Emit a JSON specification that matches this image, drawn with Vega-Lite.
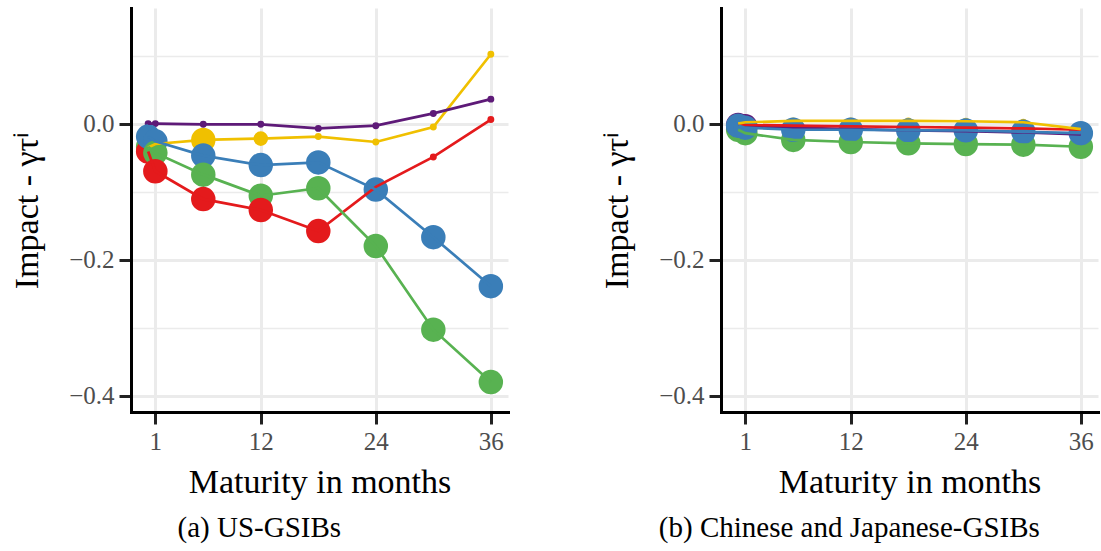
{
  "$schema": "https://vega.github.io/schema/vega-lite/v6.json",
  "background": "white",
  "padding": {"left": 10, "top": 8, "right": 2, "bottom": 2},
  "spacing": 92,
  "config": {
    "font": "Liberation Serif",
    "view": {"stroke": null},
    "axis": {
      "labelFont": "Liberation Serif",
      "titleFont": "Liberation Serif",
      "labelFontSize": 25,
      "titleFontSize": 34,
      "titleFontWeight": "normal",
      "labelColor": "#4D4D4D",
      "titleColor": "black",
      "domainColor": "black",
      "domainWidth": 3,
      "domainCap": "square",
      "tickColor": "#222222",
      "tickWidth": 3,
      "tickSize": 12,
      "labelPadding": 5,
      "gridColor": "#EBEBEB"
    },
    "title": {"font": "Liberation Serif", "fontSize": 29, "fontWeight": "normal", "color": "black"}
  },
  "datasets": {
    "us": [
      {"bank": "Red", "maturity": 24, "impact": -0.093, "sig": 0},
      {"bank": "Yellow", "maturity": 0.25, "impact": -0.035, "sig": 0.3},
      {"bank": "Yellow", "maturity": 1, "impact": -0.030, "sig": 0},
      {"bank": "Yellow", "maturity": 6, "impact": -0.024, "sig": 1},
      {"bank": "Yellow", "maturity": 12, "impact": -0.022, "sig": 0.3},
      {"bank": "Yellow", "maturity": 18, "impact": -0.019, "sig": 0},
      {"bank": "Yellow", "maturity": 24, "impact": -0.027, "sig": 0},
      {"bank": "Yellow", "maturity": 30, "impact": -0.005, "sig": 0},
      {"bank": "Yellow", "maturity": 36, "impact": 0.102, "sig": 0},
      {"bank": "Purple", "maturity": 0.25, "impact": 0.000, "sig": 0},
      {"bank": "Purple", "maturity": 1, "impact": 0.000, "sig": 0},
      {"bank": "Purple", "maturity": 6, "impact": -0.001, "sig": 0},
      {"bank": "Purple", "maturity": 12, "impact": -0.001, "sig": 0},
      {"bank": "Purple", "maturity": 18, "impact": -0.007, "sig": 0},
      {"bank": "Purple", "maturity": 24, "impact": -0.003, "sig": 0},
      {"bank": "Purple", "maturity": 30, "impact": 0.015, "sig": 0},
      {"bank": "Purple", "maturity": 36, "impact": 0.036, "sig": 0},
      {"bank": "Green", "maturity": 0.25, "impact": -0.034, "sig": 1},
      {"bank": "Red", "maturity": 0.25, "impact": -0.041, "sig": 1},
      {"bank": "Blue", "maturity": 0.25, "impact": -0.019, "sig": 1},
      {"bank": "Blue", "maturity": 1, "impact": -0.026, "sig": 1},
      {"bank": "Blue", "maturity": 6, "impact": -0.047, "sig": 1},
      {"bank": "Blue", "maturity": 12, "impact": -0.061, "sig": 1},
      {"bank": "Blue", "maturity": 18, "impact": -0.057, "sig": 1},
      {"bank": "Blue", "maturity": 24, "impact": -0.097, "sig": 1},
      {"bank": "Blue", "maturity": 30, "impact": -0.167, "sig": 1},
      {"bank": "Blue", "maturity": 36, "impact": -0.239, "sig": 1},
      {"bank": "Green", "maturity": 1, "impact": -0.043, "sig": 1},
      {"bank": "Green", "maturity": 6, "impact": -0.075, "sig": 1},
      {"bank": "Green", "maturity": 12, "impact": -0.106, "sig": 1},
      {"bank": "Green", "maturity": 18, "impact": -0.095, "sig": 1},
      {"bank": "Green", "maturity": 24, "impact": -0.180, "sig": 1},
      {"bank": "Green", "maturity": 30, "impact": -0.303, "sig": 1},
      {"bank": "Green", "maturity": 36, "impact": -0.380, "sig": 1},
      {"bank": "Red", "maturity": 1, "impact": -0.070, "sig": 1},
      {"bank": "Red", "maturity": 6, "impact": -0.111, "sig": 1},
      {"bank": "Red", "maturity": 12, "impact": -0.127, "sig": 1},
      {"bank": "Red", "maturity": 18, "impact": -0.158, "sig": 1},
      {"bank": "Red", "maturity": 30, "impact": -0.049, "sig": 0},
      {"bank": "Red", "maturity": 36, "impact": 0.006, "sig": 0}
    ],
    "cj": [
      {"bank": "Green", "maturity": 0.25, "impact": -0.009, "sig": 1},
      {"bank": "Green", "maturity": 1, "impact": -0.014, "sig": 1},
      {"bank": "Green", "maturity": 6, "impact": -0.024, "sig": 1},
      {"bank": "Green", "maturity": 12, "impact": -0.027, "sig": 1},
      {"bank": "Green", "maturity": 18, "impact": -0.029, "sig": 1},
      {"bank": "Green", "maturity": 24, "impact": -0.030, "sig": 1},
      {"bank": "Green", "maturity": 30, "impact": -0.031, "sig": 1},
      {"bank": "Green", "maturity": 36, "impact": -0.034, "sig": 1},
      {"bank": "Purple", "maturity": 0.25, "impact": -0.002, "sig": 1},
      {"bank": "Purple", "maturity": 1, "impact": -0.004, "sig": 1},
      {"bank": "Purple", "maturity": 6, "impact": -0.006, "sig": 0},
      {"bank": "Purple", "maturity": 12, "impact": -0.008, "sig": 0},
      {"bank": "Purple", "maturity": 18, "impact": -0.010, "sig": 0},
      {"bank": "Purple", "maturity": 24, "impact": -0.011, "sig": 0},
      {"bank": "Purple", "maturity": 30, "impact": -0.013, "sig": 0},
      {"bank": "Purple", "maturity": 36, "impact": -0.016, "sig": 0},
      {"bank": "Red", "maturity": 0.25, "impact": -0.001, "sig": 0},
      {"bank": "Red", "maturity": 1, "impact": -0.002, "sig": 0},
      {"bank": "Red", "maturity": 6, "impact": -0.003, "sig": 0},
      {"bank": "Red", "maturity": 12, "impact": -0.004, "sig": 0},
      {"bank": "Red", "maturity": 18, "impact": -0.005, "sig": 0},
      {"bank": "Red", "maturity": 24, "impact": -0.006, "sig": 0},
      {"bank": "Red", "maturity": 30, "impact": -0.007, "sig": 0},
      {"bank": "Red", "maturity": 36, "impact": -0.009, "sig": 0},
      {"bank": "Yellow", "maturity": 0.25, "impact": 0.000, "sig": 0},
      {"bank": "Yellow", "maturity": 1, "impact": 0.002, "sig": 0},
      {"bank": "Yellow", "maturity": 6, "impact": 0.004, "sig": 0},
      {"bank": "Yellow", "maturity": 12, "impact": 0.004, "sig": 0},
      {"bank": "Yellow", "maturity": 18, "impact": 0.004, "sig": 0},
      {"bank": "Yellow", "maturity": 24, "impact": 0.0035, "sig": 0},
      {"bank": "Yellow", "maturity": 30, "impact": 0.002, "sig": 0},
      {"bank": "Yellow", "maturity": 36, "impact": -0.008, "sig": 0},
      {"bank": "Blue", "maturity": 0.25, "impact": -0.003, "sig": 1},
      {"bank": "Blue", "maturity": 1, "impact": -0.006, "sig": 1},
      {"bank": "Blue", "maturity": 6, "impact": -0.009, "sig": 1},
      {"bank": "Blue", "maturity": 12, "impact": -0.009, "sig": 1},
      {"bank": "Blue", "maturity": 18, "impact": -0.010, "sig": 1},
      {"bank": "Blue", "maturity": 24, "impact": -0.010, "sig": 1},
      {"bank": "Blue", "maturity": 30, "impact": -0.012, "sig": 1},
      {"bank": "Blue", "maturity": 36, "impact": -0.014, "sig": 1}
    ]
  },
  "hconcat": [
    {
      "width": 377,
      "height": 404,
      "data": {"name": "us"},
      "title": {"text": "(a) US-GSIBs", "orient": "bottom", "frame": "bounds", "anchor": "middle", "offset": 15},
      "encoding": {
        "x": {"field": "maturity", "type": "quantitative", "title": "Maturity in months",
              "scale": {"domain": [-1.54, 37.79], "nice": false, "zero": false},
              "axis": {"values": [1, 12, 24, 36], "gridWidth": 3, "titlePadding": 11}},
        "y": {"field": "impact", "type": "quantitative", "title": "Impact - γτⁱ",
              "scale": {"domain": [-0.424, 0.17], "nice": false, "zero": false},
              "axis": {"values": [-0.4, -0.3, -0.2, -0.1, 0, 0.1], "titlePadding": 24,
                       "labelExpr": "round(datum.value*10) % 2 !== 0 ? '' : format(datum.value, '.1f')",
                       "tickOpacity": {"condition": {"test": "round(datum.value*10) % 2 !== 0", "value": 0}, "value": 1},
                       "gridWidth": {"condition": {"test": "round(datum.value*10) % 2 !== 0", "value": 1.6}, "value": 3}}},
        "color": {"field": "bank", "type": "nominal", "legend": null,
                  "scale": {"domain": ["Red", "Yellow", "Purple", "Blue", "Green"], "range": ["#E41A1C", "#F0C000", "#5E1A78", "#3A7EB8", "#58B251"]}}
      },
      "layer": [
        {"mark": {"type": "rule", "color": "black", "strokeWidth": 3}, "encoding": {"y": {"datum": 0}, "color": {"value": "black"}}},
        {"mark": {"type": "point", "filled": true, "opacity": 1, "strokeWidth": 0},
         "encoding": {"size": {"field": "sig", "type": "quantitative", "legend": null, "scale": {"domain": [0, 1], "range": [48, 600]}}}},
        {"mark": {"type": "line", "strokeWidth": 2.7}}
      ]
    },
    {
      "width": 377,
      "height": 404,
      "data": {"name": "cj"},
      "title": {"text": "(b) Chinese and Japanese-GSIBs", "orient": "bottom", "frame": "bounds", "anchor": "middle", "offset": 15},
      "encoding": {
        "x": {"field": "maturity", "type": "quantitative", "title": "Maturity in months",
              "scale": {"domain": [-1.54, 37.79], "nice": false, "zero": false},
              "axis": {"values": [1, 12, 24, 36], "gridWidth": 3, "titlePadding": 11}},
        "y": {"field": "impact", "type": "quantitative", "title": "Impact - γτⁱ",
              "scale": {"domain": [-0.424, 0.17], "nice": false, "zero": false},
              "axis": {"values": [-0.4, -0.3, -0.2, -0.1, 0, 0.1], "titlePadding": 24,
                       "labelExpr": "round(datum.value*10) % 2 !== 0 ? '' : format(datum.value, '.1f')",
                       "tickOpacity": {"condition": {"test": "round(datum.value*10) % 2 !== 0", "value": 0}, "value": 1},
                       "gridWidth": {"condition": {"test": "round(datum.value*10) % 2 !== 0", "value": 1.6}, "value": 3}}},
        "color": {"field": "bank", "type": "nominal", "legend": null,
                  "scale": {"domain": ["Red", "Yellow", "Purple", "Blue", "Green"], "range": ["#E41A1C", "#F0C000", "#5E1A78", "#3A7EB8", "#58B251"]}}
      },
      "layer": [
        {"mark": {"type": "rule", "color": "black", "strokeWidth": 3}, "encoding": {"y": {"datum": 0}, "color": {"value": "black"}}},
        {"mark": {"type": "point", "filled": true, "opacity": 1, "strokeWidth": 0},
         "encoding": {"size": {"field": "sig", "type": "quantitative", "legend": null, "scale": {"domain": [0, 1], "range": [48, 600]}}}},
        {"mark": {"type": "line", "strokeWidth": 2.7}}
      ]
    }
  ]
}
